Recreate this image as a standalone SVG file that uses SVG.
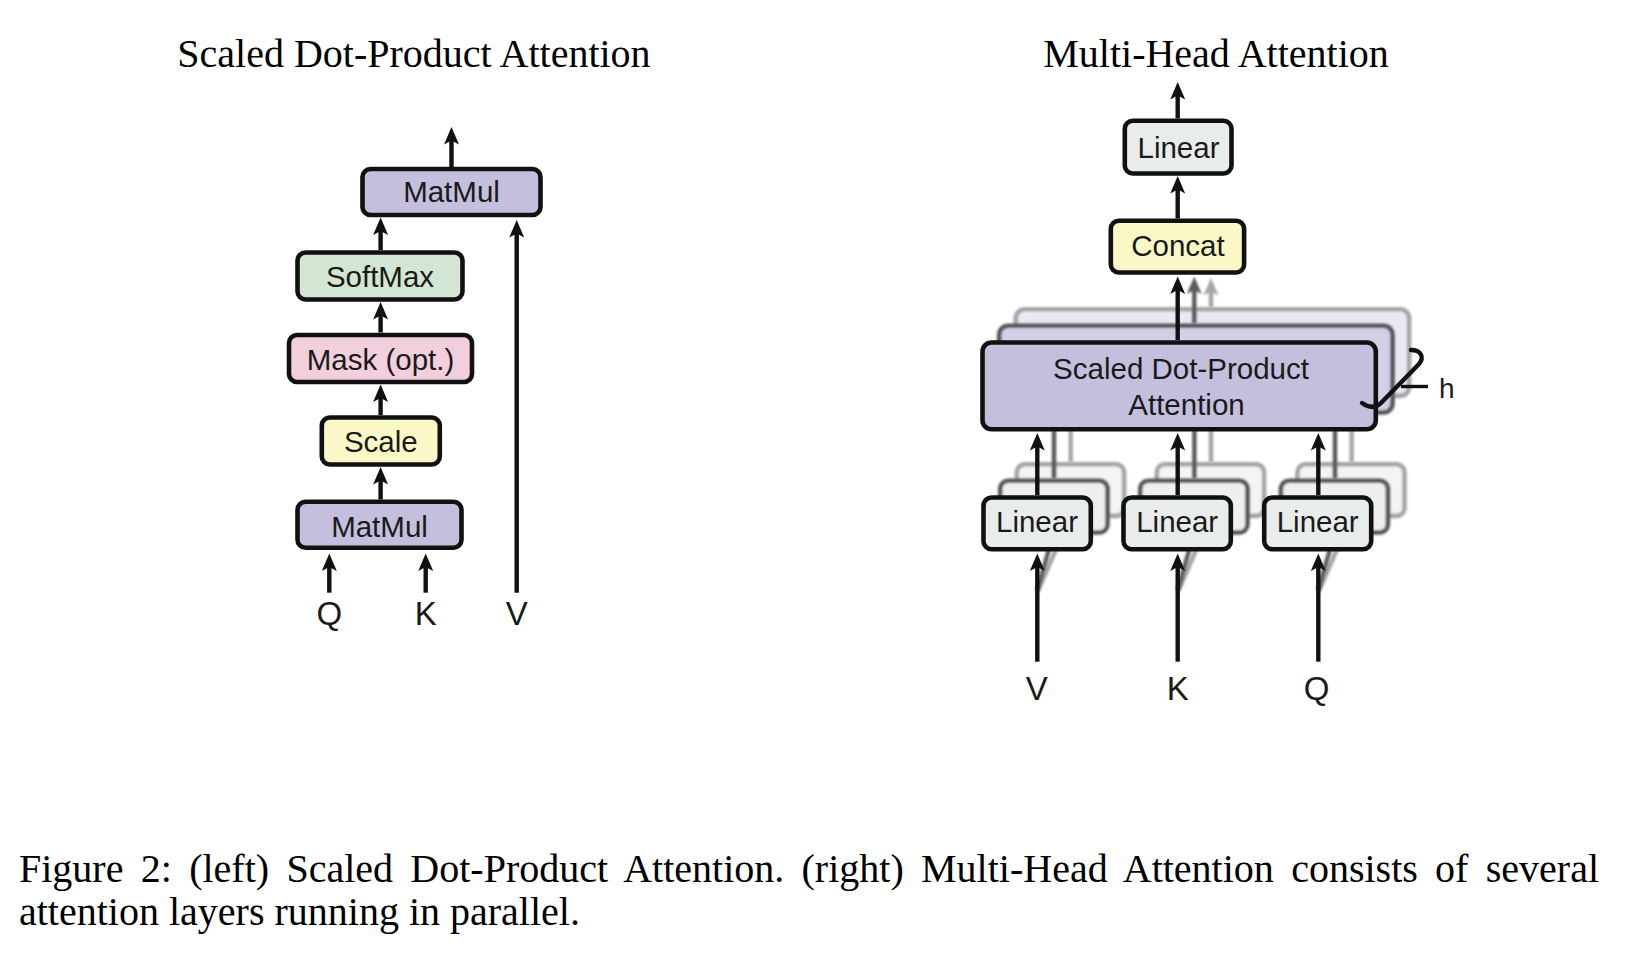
<svg xmlns="http://www.w3.org/2000/svg" width="1634" height="954" viewBox="0 0 1634 954">
<style>
.box{stroke:#111;stroke-width:4.6}
.purple{fill:#C5BFDE}
.green{fill:#D2E6D3}
.pink{fill:#F2CFDD}
.yellow{fill:#FBF8C7}
.lin{fill:#E8ECEA}
.lbl{font-family:"Liberation Sans",Helvetica,Arial,sans-serif;font-size:29.5px;fill:#1a1a1a;text-anchor:middle}
.io{font-family:"Liberation Sans",Helvetica,Arial,sans-serif;font-size:33px;fill:#1a1a1a;text-anchor:middle}
.title{font-family:"Liberation Serif","Times New Roman",serif;font-size:40px;fill:#000;text-anchor:middle}
.cap{font-family:"Liberation Serif","Times New Roman",serif;font-size:40px;fill:#000}
.arr{stroke:#111;stroke-width:4.4;fill:none}
.arr-m{stroke:#5a5a5a;stroke-width:4.4;fill:none}
.arr-b{stroke:#a5a5a5;stroke-width:4.4;fill:none}
.mid{stroke:#565656;stroke-width:4.6}
.back{stroke:#a5a5a5;stroke-width:4.6}
</style>
<defs>
<marker id="ah" markerUnits="userSpaceOnUse" viewBox="-8 -9 20 18" markerWidth="20" markerHeight="18" refX="0" refY="0" orient="auto" overflow="visible">
<path d="M11,0 L-6.5,-7.5 L-2.5,0 L-6.5,7.5 Z" fill="#111"/>
</marker>
<marker id="ahm" markerUnits="userSpaceOnUse" viewBox="-8 -9 20 18" markerWidth="20" markerHeight="18" refX="0" refY="0" orient="auto" overflow="visible">
<path d="M11,0 L-6.5,-7.5 L-2.5,0 L-6.5,7.5 Z" fill="#5a5a5a"/>
</marker>
<marker id="ahb" markerUnits="userSpaceOnUse" viewBox="-8 -9 20 18" markerWidth="20" markerHeight="18" refX="0" refY="0" orient="auto" overflow="visible">
<path d="M11,0 L-6.5,-7.5 L-2.5,0 L-6.5,7.5 Z" fill="#a5a5a5"/>
</marker>
<filter id="soft" x="-10%" y="-10%" width="120%" height="120%">
<feGaussianBlur stdDeviation="0.9"/>
</filter>
</defs>
<rect width="1634" height="954" fill="#ffffff"/>

<text class="title" x="414" y="67">Scaled Dot-Product Attention</text>
<text class="title" x="1216" y="67">Multi-Head Attention</text>

<!-- LEFT: Scaled Dot-Product Attention -->
<g id="sdpa-matmul-top"><rect class="box purple" x="362.5" y="169" width="178" height="46" rx="8"/><text class="lbl" x="451.5" y="202">MatMul</text></g>
<g id="sdpa-softmax"><rect class="box green" x="297.5" y="252.5" width="165" height="47" rx="8"/><text class="lbl" x="380" y="287">SoftMax</text></g>
<g id="sdpa-mask"><rect class="box pink" x="289" y="335" width="183" height="47" rx="8"/><text class="lbl" x="380.5" y="369.5">Mask (opt.)</text></g>
<g id="sdpa-scale"><rect class="box yellow" x="321.8" y="417.5" width="118" height="47" rx="8"/><text class="lbl" x="380.8" y="452">Scale</text></g>
<g id="sdpa-matmul-bottom"><rect class="box purple" x="297.5" y="501.8" width="164" height="46" rx="8"/><text class="lbl" x="379.5" y="537">MatMul</text></g>
<g id="sdpa-inputs">
<text class="io" x="329.3" y="625">Q</text>
<text class="io" x="425.7" y="625">K</text>
<text class="io" x="516.7" y="625">V</text>
</g>
<g id="sdpa-connectors">
<line class="arr" x1="451.5" y1="167" x2="451.5" y2="138" marker-end="url(#ah)"/>
<line class="arr" x1="380.6" y1="250" x2="380.6" y2="228.5" marker-end="url(#ah)"/>
<line class="arr" x1="380.6" y1="332.5" x2="380.6" y2="313" marker-end="url(#ah)"/>
<line class="arr" x1="380.6" y1="415" x2="380.6" y2="395.5" marker-end="url(#ah)"/>
<line class="arr" x1="380.6" y1="499.5" x2="380.6" y2="478" marker-end="url(#ah)"/>
<line class="arr" x1="329.3" y1="592.7" x2="329.3" y2="564.5" marker-end="url(#ah)"/>
<line class="arr" x1="425.7" y1="592.7" x2="425.7" y2="564.5" marker-end="url(#ah)"/>
<line class="arr" x1="516.7" y1="592.7" x2="516.7" y2="231" marker-end="url(#ah)"/>
</g>

<!-- RIGHT: Multi-Head Attention -->
<g id="mha-back-layers" filter="url(#soft)">
<rect class="back" x="1015.8" y="309.2" width="393.3" height="86.7" rx="9" fill="#EAE8F3"/>
<rect class="back" x="1016.8" y="464.2" width="107.3" height="51.7" rx="8" fill="#F3F5F4"/>
<rect class="back" x="1156.8" y="464.2" width="107.3" height="51.7" rx="8" fill="#F3F5F4"/>
<rect class="back" x="1297.5" y="464.2" width="107" height="51.7" rx="8" fill="#F3F5F4"/>
</g>
<g id="mha-back-connectors" filter="url(#soft)">
<line class="arr-b" x1="1211" y1="307" x2="1211" y2="289" marker-end="url(#ahb)"/>
<line class="arr-b" x1="1070.7" y1="462" x2="1070.7" y2="396"/>
<line class="arr-b" x1="1211" y1="462" x2="1211" y2="396"/>
<line class="arr-b" x1="1351.6" y1="462" x2="1351.6" y2="396"/>
<line class="arr-b" x1="1037.3" y1="592" x2="1070.7" y2="516"/>
<line class="arr-b" x1="1177.7" y1="592" x2="1211" y2="516"/>
<line class="arr-b" x1="1318.3" y1="592" x2="1351.6" y2="516"/>
</g>
<g id="mha-mid-layers" filter="url(#soft)">
<rect class="mid" x="999.2" y="325.8" width="393.3" height="86.7" rx="9" fill="#D4CFE7"/>
<rect class="mid" x="1000.2" y="480.8" width="107.3" height="51.7" rx="8" fill="#EDF0EE"/>
<rect class="mid" x="1140.2" y="480.8" width="107.3" height="51.7" rx="8" fill="#EDF0EE"/>
<rect class="mid" x="1280.9" y="480.8" width="107" height="51.7" rx="8" fill="#EDF0EE"/>
</g>
<g id="mha-mid-connectors" filter="url(#soft)">
<line class="arr-m" x1="1194.3" y1="323.5" x2="1194.3" y2="287.5" marker-end="url(#ahm)"/>
<line class="arr-m" x1="1054" y1="478.5" x2="1054" y2="412"/>
<line class="arr-m" x1="1194.4" y1="478.5" x2="1194.4" y2="412"/>
<line class="arr-m" x1="1335" y1="478.5" x2="1335" y2="412"/>
<line class="arr-m" x1="1037.3" y1="590" x2="1054" y2="532"/>
<line class="arr-m" x1="1177.7" y1="590" x2="1194.4" y2="532"/>
<line class="arr-m" x1="1318.3" y1="590" x2="1335" y2="532"/>
</g>

<g id="mha-linear-out"><rect class="box lin" x="1124.8" y="120.8" width="106.7" height="52.7" rx="8"/><text class="lbl" x="1178.5" y="157.5">Linear</text></g>
<g id="mha-concat"><rect class="box yellow" x="1110.8" y="220.8" width="133.3" height="51.7" rx="8"/><text class="lbl" x="1178" y="256">Concat</text></g>
<g id="mha-sdpa"><rect class="box purple" x="982.5" y="342.5" width="393.3" height="86.7" rx="9"/>
<text class="lbl" x="1181" y="378.5">Scaled Dot-Product</text>
<text class="lbl" x="1186.5" y="415">Attention</text></g>
<g id="mha-linear-v"><rect class="box lin" x="983.5" y="497.5" width="107.3" height="51.7" rx="8"/><text class="lbl" x="1037" y="532">Linear</text></g>
<g id="mha-linear-k"><rect class="box lin" x="1123.5" y="497.5" width="107.3" height="51.7" rx="8"/><text class="lbl" x="1177.2" y="532">Linear</text></g>
<g id="mha-linear-q"><rect class="box lin" x="1264.2" y="497.5" width="107" height="51.7" rx="8"/><text class="lbl" x="1317.7" y="532">Linear</text></g>
<g id="mha-h-brace">
<path d="M1411,350 C1421,350 1425,357 1418.5,364.5 L1382,402 C1376,408.5 1369,408 1362,403" stroke="#111" stroke-width="4.4" fill="none" stroke-linecap="round"/>
<line x1="1401" y1="386.5" x2="1428" y2="386.5" stroke="#111" stroke-width="3.4"/>
<text x="1439" y="398" font-family="Liberation Sans,Helvetica,Arial,sans-serif" font-size="28" fill="#1a1a1a">h</text>
</g>
<g id="mha-inputs">
<text class="io" x="1036.7" y="700">V</text>
<text class="io" x="1177.7" y="700">K</text>
<text class="io" x="1316.7" y="700">Q</text>
</g>
<g id="mha-connectors">
<line class="arr" x1="1177.7" y1="118.5" x2="1177.7" y2="93" marker-end="url(#ah)"/>
<line class="arr" x1="1177.7" y1="218.5" x2="1177.7" y2="187" marker-end="url(#ah)"/>
<line class="arr" x1="1177.7" y1="340" x2="1177.7" y2="287.5" marker-end="url(#ah)"/>
<line class="arr" x1="1037.3" y1="495" x2="1037.3" y2="444" marker-end="url(#ah)"/>
<line class="arr" x1="1177.7" y1="495" x2="1177.7" y2="444" marker-end="url(#ah)"/>
<line class="arr" x1="1318.3" y1="495" x2="1318.3" y2="444" marker-end="url(#ah)"/>
<line class="arr" x1="1037.3" y1="661.7" x2="1037.3" y2="564.5" marker-end="url(#ah)"/>
<line class="arr" x1="1177.7" y1="661.7" x2="1177.7" y2="564.5" marker-end="url(#ah)"/>
<line class="arr" x1="1318.3" y1="661.7" x2="1318.3" y2="564.5" marker-end="url(#ah)"/>
</g>

<g id="caption">
<text class="cap" x="19" y="882" word-spacing="7.3">Figure 2: (left) Scaled Dot-Product Attention. (right) Multi-Head Attention consists of several</text>
<text class="cap" x="19" y="925">attention layers running in parallel.</text>
</g>
</svg>
